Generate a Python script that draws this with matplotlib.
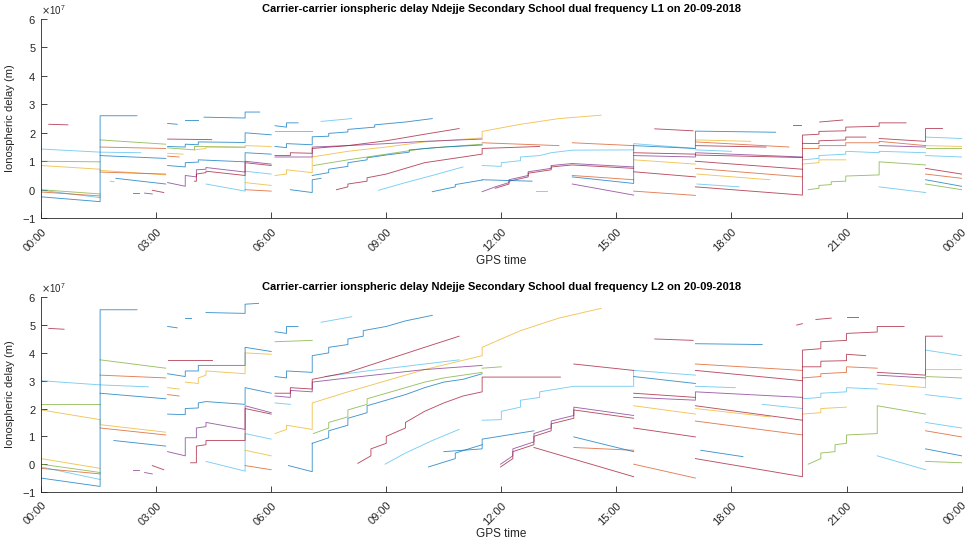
import numpy as np
import matplotlib
matplotlib.use('Agg')
import matplotlib.pyplot as plt
from matplotlib.ticker import ScalarFormatter

# every track is a list of (GPS hour, delay in 1e7 m) points
# ---------------- L1 ----------------
l1_blue = [
    [(0, -0.25), (1.54, -0.42), (1.54, 2.6), (2.5, 2.6)],
    [(1.54, 1.2), (3.25, 1.1)],
    [(1.95, 0.4), (3.25, 0.2)],
    [(3.3, 2.33), (3.55, 2.3)],
    [(3.75, 2.45), (4.1, 2.45)],
    [(4.25, 2.55), (5.32, 2.52), (5.32, 2.73), (5.7, 2.73)],
    [(3.3, 1.52), (3.76, 1.5), (3.76, 1.6), (4.1, 1.58), (4.1, 1.68), (5.32, 1.66), (5.32, 2.0), (6.0, 1.93)],
    [(3.3, 0.85), (3.76, 0.8), (3.76, 0.95), (4.1, 0.97), (4.1, 1.05), (5.32, 0.98), (5.32, 1.3), (6.0, 1.25)],
    [(6.1, 2.25), (6.4, 2.2), (6.4, 2.35), (6.7, 2.35)],
    [(6.1, 1.52), (6.4, 1.48), (6.4, 1.62), (7.07, 1.58), (7.07, 1.86), (7.5, 1.88), (7.5, 1.98), (8.0, 2.03),
     (8.0, 2.12), (8.7, 2.2), (8.7, 2.28), (9.5, 2.38), (10.2, 2.5)],
    [(7.07, 0.5), (7.5, 0.6), (7.5, 0.72), (8.0, 0.82), (8.0, 0.95), (8.5, 1.05), (8.5, 1.12), (9.0, 1.22),
     (9.6, 1.32), (9.6, 1.4), (10.5, 1.5), (11.5, 1.57)],
    [(11.5, 0.35), (12.8, 0.3)],
    [(13.85, 0.45), (15.45, 0.22), (15.45, 1.55), (17.06, 1.45), (17.06, 2.06), (19.15, 2.02)],
    [(10.2, -0.07), (10.8, 0.1), (10.8, 0.18), (11.5, 0.34)],
    [(23.06, 0.35), (24, 0.12)],
    [(6.5, 0.0), (7.07, -0.1), (7.07, 0.35), (7.3, 0.4)],
]
l1_orange = [
    [(0, -0.08), (1.54, -0.22)],
    [(1.54, 1.5), (3.25, 1.45)],
    [(1.54, 0.62), (3.25, 0.55)],
    [(3.3, 1.18), (3.6, 1.15)],
    [(5.32, 0.0), (6.0, -0.05)],
    [(11.5, 1.65), (13.5, 1.55)],
    [(13.85, 1.65), (15.45, 1.55)],
    [(15.45, -0.05), (17.06, -0.2)],
    [(17.06, 1.68), (19.5, 1.5)],
    [(13.85, 0.5), (15.45, 0.35)],
    [(19.85, 1.45), (20.28, 1.45), (20.28, 1.55), (20.98, 1.55), (20.98, 1.65), (21.85, 1.65), (21.85, 1.7), (23.06, 1.55)],
    [(23.06, 0.55), (24, 0.4)],
    [(17.06, 0.75), (19.85, 0.45)],
]
l1_yellow = [
    [(0, 0.85), (1.54, 0.72), (1.54, 0.68), (3.25, 0.52)],
    [(3.3, 1.28), (3.7, 1.25)],
    [(4.0, 1.4), (4.3, 1.45), (4.3, 1.5), (5.32, 1.48), (5.32, 1.55), (6.0, 1.52)],
    [(5.32, 0.25), (6.0, 0.15)],
    [(6.1, 0.5), (6.4, 0.55), (6.4, 0.7), (7.07, 0.6), (7.07, 1.15), (8.0, 1.35), (9.0, 1.5), (10.0, 1.68),
     (11.5, 1.82), (11.5, 2.05), (12.5, 2.3), (13.5, 2.5), (14.6, 2.62)],
    [(15.45, 1.05), (17.06, 0.9)],
    [(17.1, 0.55), (19.0, 0.35)],
    [(19.85, 0.9), (20.28, 0.95), (20.28, 1.05), (20.98, 1.05)],
    [(23.06, 1.55), (24, 1.52)],
    [(17.06, 1.75), (18.5, 1.7)],
]
l1_purple = [
    [(3.3, 0.25), (3.76, 0.12), (3.76, 0.5), (4.05, 0.45), (4.05, 0.7), (4.3, 0.72), (4.3, 0.78), (5.32, 0.62),
     (5.32, 1.0), (6.0, 0.9)],
    [(6.1, 1.15), (7.07, 1.15), (7.07, 1.5), (8.0, 1.55), (9.0, 1.62), (10.0, 1.7), (11.5, 1.78)],
    [(2.4, -0.1), (2.55, -0.1)],
    [(2.7, -0.12), (2.9, -0.15)],
    [(11.5, -0.07), (11.84, 0.1), (12.2, 0.25), (12.2, 0.35), (12.7, 0.5), (12.7, 0.63), (13.3, 0.75),
     (13.3, 0.85), (13.85, 0.92), (15.45, 0.8)],
    [(13.85, 0.2), (15.45, -0.19)],
    [(15.45, 1.2), (17.06, 1.15), (17.06, 1.3), (19.85, 1.15)],
    [(21.85, 1.55), (23.06, 1.5)],
]
l1_green = [
    [(0, 1.0), (1.54, 0.98)],
    [(0, 0.0), (1.54, -0.15)],
    [(1.54, 1.75), (3.25, 1.6)],
    [(3.3, 1.47), (4.0, 1.4), (4.0, 1.52), (5.32, 1.5)],
    [(6.1, 2.08), (7.07, 2.08)],
    [(7.1, 0.85), (8.0, 1.05), (9.0, 1.25), (10.0, 1.45), (11.5, 1.6)],
    [(20.0, 0.0), (20.28, 0.05), (20.28, 0.15), (20.6, 0.18), (20.6, 0.28), (20.98, 0.3), (20.98, 0.48),
     (21.85, 0.52), (21.85, 0.98), (23.06, 0.87)],
    [(23.06, 1.45), (24, 1.45)],
    [(23.06, 0.2), (24, 0.0)],
]
l1_lightblue = [
    [(0, 1.43), (1.54, 1.32), (2.6, 1.3)],
    [(0, -0.02), (1.54, -0.28)],
    [(1.8, 0.3), (1.9, 0.28)],
    [(4.3, 0.2), (5.32, -0.05), (5.32, 0.65), (6.0, 0.55)],
    [(7.3, 2.4), (8.1, 2.5)],
    [(8.8, -0.02), (9.5, 0.25), (10.2, 0.5), (11.0, 0.8)],
    [(11.5, 0.85), (12.0, 0.82), (12.0, 0.95), (12.5, 1.02), (12.5, 1.15), (13.0, 1.2), (13.3, 1.3),
     (13.85, 1.39), (15.45, 1.4), (15.45, 1.62), (17.06, 1.45)],
    [(17.06, 1.4), (18.0, 1.35)],
    [(17.1, 0.2), (18.2, 0.1)],
    [(19.85, 1.05), (20.28, 1.1), (20.28, 1.2), (20.98, 1.25), (20.98, 1.35), (21.85, 1.3), (21.85, 1.35), (23.06, 1.3)],
    [(23.06, 1.85), (24, 1.8)],
    [(23.06, 1.2), (24, 1.15)],
    [(21.85, 0.1), (23.06, -0.1)],
    [(12.9, -0.05), (13.2, -0.05)],
]
l1_red = [
    [(0.2, 2.3), (0.7, 2.28)],
    [(2.9, -0.02), (3.2, -0.1)],
    [(3.3, 1.78), (4.45, 1.76)],
    [(4.0, 0.3), (4.05, 0.3), (4.05, 0.55), (4.3, 0.6), (4.3, 0.65), (5.32, 0.5), (5.32, 0.95), (6.0, 0.85)],
    [(6.1, 1.2), (6.5, 1.2), (6.5, 1.3), (7.07, 1.28), (7.07, 1.45), (8.0, 1.55), (9.0, 1.72), (10.0, 1.95), (10.9, 2.15)],
    [(7.7, 0.0), (8.0, 0.1), (8.0, 0.2), (8.5, 0.3), (8.5, 0.42), (9.0, 0.55), (9.5, 0.75), (10.0, 0.95),
     (10.5, 1.05), (11.0, 1.15), (11.5, 1.25), (11.5, 1.45), (13.0, 1.52)],
    [(11.84, 0.05), (12.2, 0.2), (12.2, 0.3), (12.7, 0.45), (12.7, 0.58), (13.3, 0.7), (13.3, 0.8), (13.85, 0.87), (15.45, 0.75)],
    [(15.45, 1.3), (17.06, 1.25)],
    [(17.06, 1.0), (19.85, 0.72)],
    [(17.06, 1.22), (19.85, 1.13)],
    [(16.0, 2.14), (17.0, 2.07)],
    [(15.45, 0.63), (17.06, 0.45)],
    [(17.06, 1.55), (18.9, 1.5)],
    [(17.06, 0.1), (19.85, -0.19), (19.85, 1.92), (20.28, 1.95), (20.28, 2.05), (20.98, 2.07), (20.98, 2.2),
     (21.85, 2.23), (21.85, 2.35), (22.55, 2.35)],
    [(19.85, 1.63), (20.28, 1.62), (20.28, 1.72), (20.98, 1.75), (20.98, 1.85), (21.5, 1.85)],
    [(21.85, 1.8), (23.06, 1.7), (23.06, 2.15), (23.5, 2.15)],
    [(23.06, 0.75), (24, 0.55)],
    [(19.6, 2.27), (19.8, 2.27)],
    [(20.3, 2.38), (20.9, 2.45)],
]

# ---------------- L2 ----------------
l2_blue = [
    [(0, -0.5), (1.54, -0.8), (1.54, 5.55), (2.5, 5.55)],
    [(1.54, 2.55), (3.25, 2.35)],
    [(1.9, 0.85), (3.25, 0.65)],
    [(3.3, 4.95), (3.55, 4.9)],
    [(3.75, 5.25), (3.9, 5.25)],
    [(4.3, 5.45), (5.32, 5.42), (5.32, 5.75), (5.67, 5.78)],
    [(3.3, 3.25), (3.76, 3.15), (3.76, 3.35), (4.1, 3.35), (4.1, 3.55), (5.32, 3.55), (5.32, 4.2), (6.0, 4.05)],
    [(3.3, 1.8), (3.76, 1.78), (3.76, 2.0), (4.1, 2.02), (4.1, 2.2), (4.3, 2.25), (5.32, 2.15), (5.32, 2.75), (6.0, 2.55)],
    [(6.1, 4.76), (6.4, 4.7), (6.4, 4.95), (6.7, 4.95)],
    [(6.1, 3.15), (6.4, 3.1), (6.4, 3.35), (7.07, 3.3), (7.07, 3.9), (7.5, 4.0), (7.5, 4.2), (8.0, 4.3),
     (8.0, 4.5), (8.4, 4.6), (8.4, 4.8), (9.0, 4.95), (9.5, 5.15), (10.2, 5.35)],
    [(7.07, 0.75), (7.5, 0.95), (7.5, 1.2), (8.0, 1.4), (8.0, 1.65), (8.5, 1.85), (8.5, 2.1), (9.0, 2.3),
     (9.5, 2.5), (10.0, 2.75), (10.5, 2.95), (11.0, 3.05), (11.5, 3.25)],
    [(10.5, 0.45), (11.5, 0.55), (11.5, 0.9), (12.85, 1.2)],
    [(13.89, 0.98), (15.45, 0.45)],
    [(15.45, 3.15), (17.06, 2.9)],
    [(17.06, 4.33), (18.8, 4.3)],
    [(17.2, 0.5), (18.3, 0.27)],
    [(23.06, 0.55), (24, 0.3)],
    [(10.1, -0.1), (10.8, 0.2), (10.8, 0.4), (11.5, 0.7)],
    [(6.45, -0.05), (7.07, -0.27), (7.07, 0.75)],
]
l2_orange = [
    [(0, -0.15), (1.54, -0.35)],
    [(1.54, 3.2), (3.25, 3.1)],
    [(1.54, 1.3), (3.25, 1.05)],
    [(3.3, 2.5), (3.6, 2.45)],
    [(5.32, -0.05), (6.0, -0.2)],
    [(15.45, 0.0), (17.06, -0.5)],
    [(17.06, 3.6), (19.85, 3.37)],
    [(13.89, 0.6), (15.45, 0.5)],
    [(19.85, 3.1), (20.33, 3.15), (20.33, 3.25), (21.0, 3.3), (21.0, 3.5), (21.8, 3.45)],
    [(23.06, 1.2), (24, 0.98)],
    [(17.06, 1.55), (19.85, 1.05)],
]
l2_yellow = [
    [(0, 1.95), (1.54, 1.6), (1.54, 1.42), (3.25, 1.15)],
    [(0, 0.2), (1.54, -0.15)],
    [(3.3, 2.75), (3.6, 2.7)],
    [(3.76, 2.95), (4.1, 2.9), (4.1, 3.1), (4.3, 3.2), (4.3, 3.35), (5.32, 3.25), (5.32, 4.0), (6.0, 3.95)],
    [(5.32, 0.5), (6.0, 0.3)],
    [(6.1, 1.1), (6.4, 1.25), (6.4, 1.4), (7.07, 1.25), (7.07, 2.2), (8.0, 2.6), (9.0, 3.0), (10.0, 3.4),
     (11.5, 3.9), (11.5, 4.2), (12.5, 4.8), (13.5, 5.25), (14.6, 5.6)],
    [(15.45, 2.1), (17.06, 1.8)],
    [(17.06, 2.0), (19.0, 1.7)],
    [(19.85, 1.8), (20.33, 1.85), (20.33, 2.0), (21.0, 2.05)],
    [(21.8, 2.9), (23.06, 2.75), (23.06, 3.4), (24, 3.4)],
]
l2_purple = [
    [(3.3, 0.45), (3.76, 0.3), (3.76, 0.95), (4.05, 0.95), (4.05, 1.3), (4.3, 1.35), (4.3, 1.5), (5.32, 1.25),
     (5.32, 2.1), (6.0, 1.85)],
    [(6.1, 2.45), (6.5, 2.4), (6.5, 2.65), (7.07, 2.6), (7.07, 2.95), (8.0, 3.1), (9.0, 3.25), (10.0, 3.4), (11.5, 3.55)],
    [(2.4, -0.2), (2.55, -0.2)],
    [(2.7, -0.3), (2.9, -0.35)],
    [(11.98, 0.0), (12.3, 0.3), (12.3, 0.55), (12.85, 0.8), (12.85, 1.1), (13.3, 1.3), (13.3, 1.55),
     (13.89, 1.75), (13.89, 2.05), (15.45, 1.75)],
    [(15.45, 2.4), (17.06, 2.3), (17.06, 2.6), (19.85, 2.4)],
    [(21.8, 3.2), (23.06, 3.1)],
]
l2_green = [
    [(0, 2.15), (1.54, 2.15)],
    [(0, 0.0), (1.54, -0.3)],
    [(1.54, 3.75), (3.25, 3.45)],
    [(6.1, 4.4), (7.07, 4.45)],
    [(7.1, 1.1), (7.5, 1.3), (7.5, 1.5), (8.0, 1.7), (8.0, 1.95), (8.5, 2.15), (8.5, 2.35), (9.0, 2.55),
     (9.5, 2.75), (10.0, 2.95), (10.5, 3.1), (11.0, 3.2), (11.5, 3.3)],
    [(20.0, 0.0), (20.33, 0.2), (20.33, 0.4), (20.7, 0.45), (20.7, 0.7), (21.0, 0.75), (21.0, 1.05),
     (21.8, 1.1), (21.8, 2.1), (23.06, 1.8)],
    [(23.06, 3.15), (24, 3.1)],
    [(23.06, 0.1), (24, 0.05)],
    [(11.5, 3.45), (12.0, 3.5)],
]
l2_lightblue = [
    [(0, 3.0), (1.54, 2.85), (2.8, 2.78)],
    [(0, -0.1), (1.54, -0.55)],
    [(4.3, 0.1), (5.32, -0.25), (5.32, 1.1), (6.0, 0.9)],
    [(7.3, 5.1), (8.1, 5.3)],
    [(6.1, 2.2), (6.5, 2.15)],
    [(7.4, 3.15), (8.5, 3.35), (10.0, 3.6), (10.9, 3.75)],
    [(8.97, 0.0), (9.5, 0.4), (10.2, 0.85), (10.9, 1.25)],
    [(11.5, 1.58), (12.0, 1.6), (12.0, 1.9), (12.5, 2.05), (12.5, 2.3), (13.0, 2.4), (13.0, 2.6), (13.89, 2.8),
     (15.45, 2.8), (15.45, 3.37), (17.06, 3.2)],
    [(17.06, 2.8), (18.1, 2.75)],
    [(19.85, 2.35), (20.33, 2.4), (20.33, 2.55), (21.0, 2.6), (21.0, 2.75), (21.8, 2.7)],
    [(23.06, 4.1), (24, 3.9)],
    [(23.06, 2.5), (24, 2.35)],
    [(23.06, 1.5), (24, 1.3)],
    [(21.8, 0.3), (23.06, -0.2)],
    [(18.8, 2.15), (19.85, 2.0)],
]
l2_red = [
    [(0.2, 4.88), (0.6, 4.85)],
    [(2.9, -0.05), (3.2, -0.2)],
    [(3.3, 3.75), (4.45, 3.75)],
    [(3.9, 0.05), (4.05, 0.05), (4.05, 0.65), (4.3, 0.7), (4.3, 0.85), (5.32, 0.85), (5.32, 2.0), (6.0, 1.8)],
    [(6.1, 2.55), (6.5, 2.55), (6.5, 2.75), (7.07, 2.7), (7.07, 3.05), (8.0, 3.3), (9.0, 3.75), (10.0, 4.2), (10.9, 4.6)],
    [(8.26, 0.03), (8.6, 0.3), (8.6, 0.55), (9.0, 0.75), (9.0, 1.0), (9.5, 1.3), (9.5, 1.5), (10.0, 1.9),
     (10.5, 2.2), (11.0, 2.45), (11.5, 2.6), (11.5, 3.13), (13.54, 3.13)],
    [(11.98, -0.1), (12.3, 0.2), (12.3, 0.45), (12.85, 0.7), (12.85, 1.0), (13.3, 1.2), (13.3, 1.45),
     (13.89, 1.65), (13.89, 1.95), (15.45, 1.65)],
    [(12.85, 0.6), (15.45, -0.45)],
    [(13.89, 3.6), (15.45, 3.37)],
    [(16.0, 4.5), (17.0, 4.45)],
    [(15.45, 2.55), (17.06, 2.4)],
    [(15.45, 1.3), (17.06, 0.98)],
    [(17.06, 3.37), (19.85, 3.0)],
    [(17.06, 2.1), (19.85, 1.58)],
    [(17.06, 0.2), (19.85, -0.45), (19.85, 4.1), (20.33, 4.15), (20.33, 4.4), (21.0, 4.45), (21.0, 4.7),
     (21.8, 4.75), (21.8, 4.95), (22.5, 4.95)],
    [(19.85, 3.5), (20.33, 3.5), (20.33, 3.7), (21.0, 3.72), (21.0, 3.95), (21.5, 3.9)],
    [(21.8, 3.3), (23.06, 3.2), (23.06, 4.6), (23.5, 4.6)],
    [(19.7, 5.0), (19.85, 5.05)],
    [(20.2, 5.2), (20.6, 5.25)],
    [(21.0, 5.3), (21.3, 5.3)],
]

hour_ticks = [0, 3, 6, 9, 12, 15, 18, 21, 24]
hour_labels = ['00:00', '03:00', '06:00', '09:00', '12:00', '15:00', '18:00', '21:00', '00:00']

colors = {'blue': '#0072BD', 'orange': '#D95319', 'yellow': '#EDB120', 'purple': '#7E2F8E',
          'green': '#77AC30', 'lightblue': '#4DBEEE', 'red': '#A2142F'}

plt.rcParams['font.family'] = ['Liberation Sans', 'DejaVu Sans']
AX_COLOR = '#262626'


def draw_panel(ax, groups, title):
    for name, tracks in groups:
        for tr in tracks:
            t = [p[0] for p in tr]
            v = [p[1] * 1e7 for p in tr]
            ax.plot(t, v, color=colors[name], lw=0.65, alpha=0.75)
    ax.set_xlim(0, 24)
    ax.set_ylim(-1e7, 6e7)
    ax.set_xticks(hour_ticks)
    ax.set_xticklabels(hour_labels, rotation=45, ha='right', rotation_mode='anchor')
    ax.set_yticks(np.arange(-1, 7) * 1e7)
    fmt = ScalarFormatter(useMathText=True)
    fmt.set_powerlimits((0, 0))
    ax.yaxis.set_major_formatter(fmt)
    ax.yaxis.get_offset_text().set_fontsize(7)
    ax.yaxis.get_offset_text().set_color('#555555')
    ax.spines['top'].set_visible(False)
    ax.spines['right'].set_visible(False)
    for s in ['left', 'bottom']:
        ax.spines[s].set_color(AX_COLOR)
        ax.spines[s].set_linewidth(0.6)
    ax.tick_params(direction='in', length=4, width=0.6, colors=AX_COLOR, labelsize=8)
    ax.tick_params(axis='x', pad=6)
    ax.set_title(title, fontsize=8, fontweight='bold', pad=5)
    ax.set_xlabel('GPS time', fontsize=8.5, color=AX_COLOR, labelpad=1)
    ax.set_ylabel('Ionospheric delay (m)', fontsize=8, color=AX_COLOR, labelpad=5)


fig = plt.figure(figsize=(9.68, 5.44), dpi=100)
ax1 = fig.add_axes([0.0424, 0.599, 0.951, 0.366])
ax2 = fig.add_axes([0.0424, 0.0956, 0.951, 0.358])

draw_panel(ax1, [('lightblue', l1_lightblue), ('green', l1_green), ('yellow', l1_yellow), ('orange', l1_orange),
                 ('purple', l1_purple), ('red', l1_red), ('blue', l1_blue)],
           'Carrier-carrier ionspheric delay Ndejje Secondary School dual frequency L1 on 20-09-2018')
draw_panel(ax2, [('lightblue', l2_lightblue), ('green', l2_green), ('yellow', l2_yellow), ('orange', l2_orange),
                 ('purple', l2_purple), ('red', l2_red), ('blue', l2_blue)],
           'Carrier-carrier ionspheric delay Ndejje Secondary School dual frequency L2 on 20-09-2018')

fig.savefig('out.png', dpi=100)
